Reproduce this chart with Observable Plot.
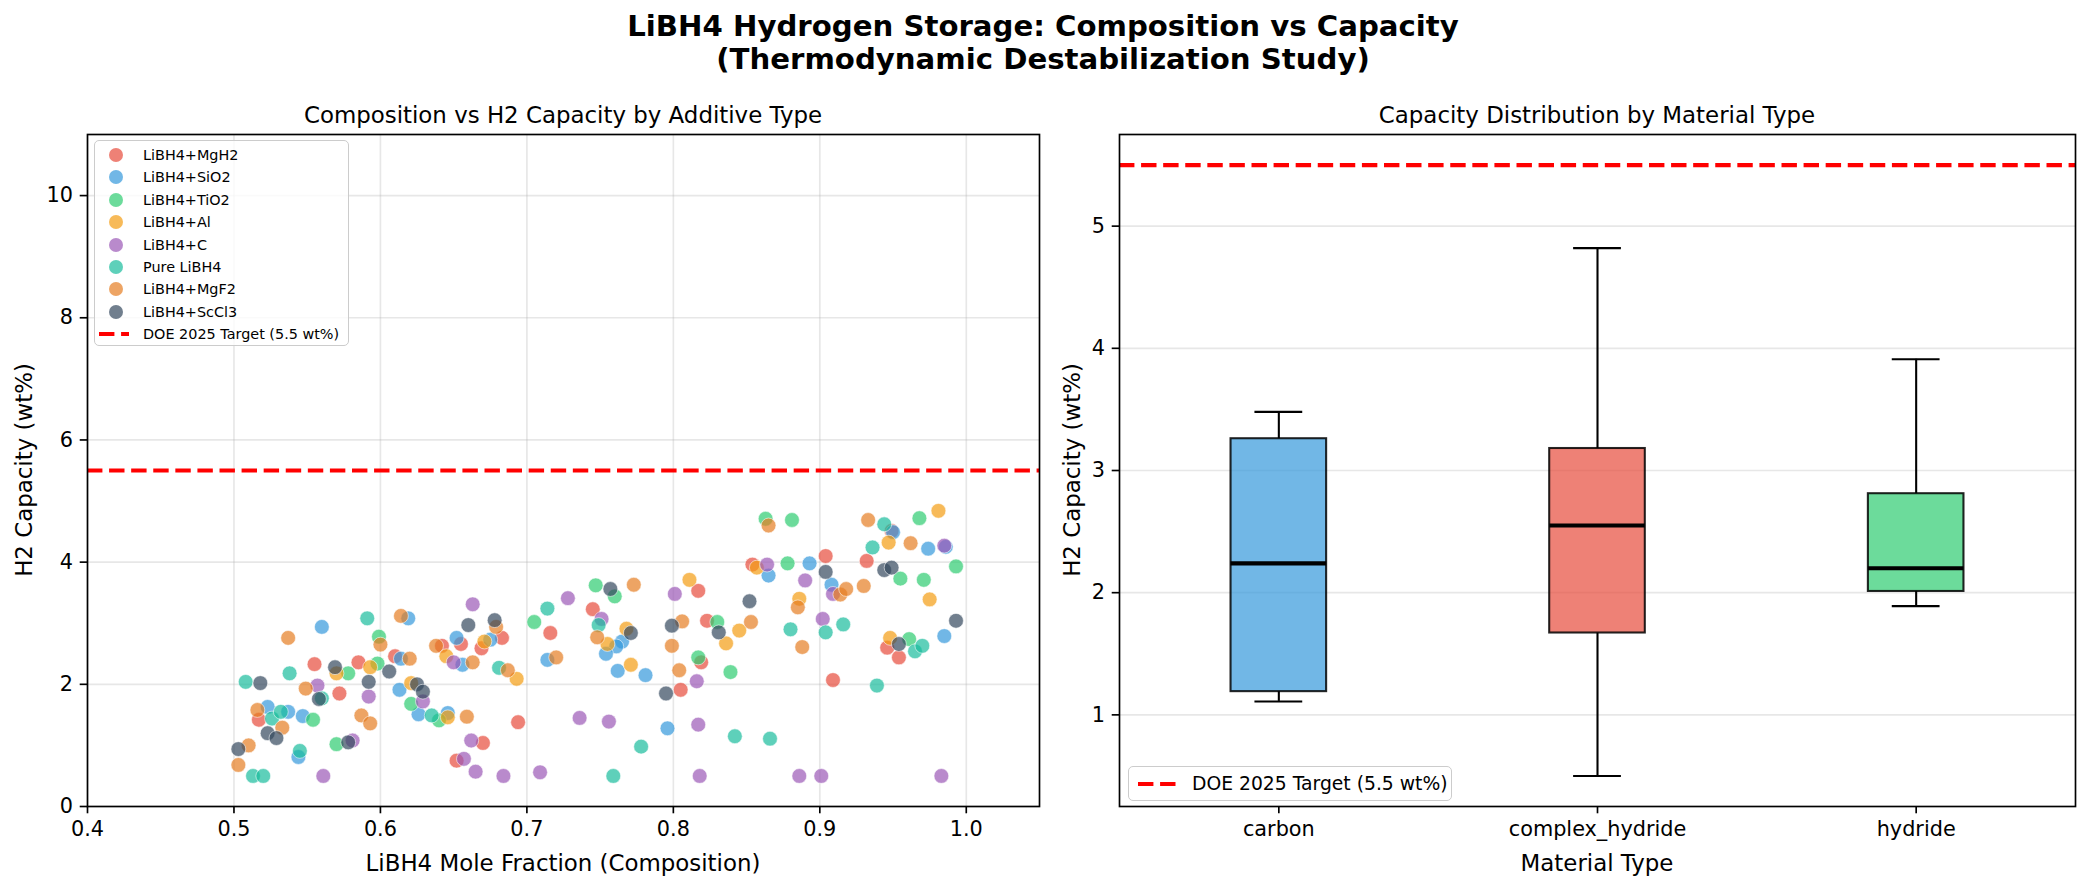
<!DOCTYPE html>
<html><head><meta charset="utf-8">
<script src="https://cdn.jsdelivr.net/npm/d3@7"></script>
<script src="https://cdn.jsdelivr.net/npm/@observablehq/plot@0.6"></script>
<style>
body{margin:0;background:#fff;}
#fig{position:relative;width:2086px;height:890px;font-family:"DejaVu Sans",sans-serif;color:#000;overflow:hidden;background:#fff;}
#fig svg{position:absolute;top:0;}
.t{position:absolute;white-space:nowrap;transform:translate(-50%,-50%);line-height:1;}
.legend{position:absolute;box-sizing:border-box;border:1.5px solid #cccccc;border-radius:5px;background:rgba(255,255,255,0.8);}
</style></head><body><div id="fig"></div>
<script>
// ---------- data ----------
const typeNames = ["LiBH4+MgH2","LiBH4+SiO2","LiBH4+TiO2","LiBH4+Al","LiBH4+C","Pure LiBH4","LiBH4+MgF2","LiBH4+ScCl3"];
const typeColors = ["#e74c3c","#3498db","#2ecc71","#f39c12","#9b59b6","#1abc9c","#e67e22","#34495e"];

const ptsMgH2 = [[0.555,2.33],[0.585,2.36],[0.572,1.85],[0.517,1.42],[0.683,2.76],[0.655,2.66],[0.642,2.63],[0.669,2.59],[0.610,2.46],[0.694,1.38],[0.670,1.04],[0.652,0.75],[0.716,2.84],[0.745,3.23],[0.805,1.91],[0.817,3.53],[0.854,3.96],[0.904,4.10],[0.823,3.04],[0.819,2.36],[0.909,2.07],[0.949,4.51],[0.932,4.02],[0.946,2.60],[0.954,2.44]];
const ptsSiO2 = [[0.560,2.94],[0.523,1.63],[0.537,1.55],[0.547,1.48],[0.544,0.81],[0.619,3.08],[0.652,2.76],[0.656,2.32],[0.675,2.73],[0.614,2.42],[0.613,1.91],[0.626,1.51],[0.646,1.53],[0.714,2.40],[0.765,2.70],[0.761,2.62],[0.754,2.50],[0.762,2.22],[0.781,2.15],[0.796,1.28],[0.865,3.78],[0.893,3.98],[0.908,3.63],[0.950,4.49],[0.974,4.22],[0.986,4.25],[0.985,2.79]];
const ptsTiO2 = [[0.599,2.78],[0.578,2.18],[0.598,2.34],[0.554,1.42],[0.570,1.02],[0.705,3.02],[0.621,1.68],[0.640,1.41],[0.747,3.62],[0.760,3.44],[0.863,4.71],[0.881,4.69],[0.878,3.98],[0.830,3.02],[0.817,2.44],[0.839,2.20],[0.968,4.72],[0.955,3.73],[0.971,3.71],[0.993,3.93],[0.961,2.74]];
const ptsAl = [[0.570,2.18],[0.593,2.28],[0.645,2.46],[0.671,2.70],[0.693,2.09],[0.621,2.02],[0.646,1.46],[0.768,2.91],[0.755,2.66],[0.771,2.32],[0.811,3.71],[0.857,3.91],[0.886,3.40],[0.845,2.88],[0.836,2.67],[0.947,4.32],[0.981,4.84],[0.975,3.39],[0.948,2.76]];
const ptsC = [[0.557,1.98],[0.592,1.80],[0.581,1.08],[0.561,0.50],[0.663,3.31],[0.650,2.36],[0.629,1.72],[0.662,1.08],[0.657,0.78],[0.665,0.57],[0.684,0.50],[0.709,0.56],[0.728,3.41],[0.751,3.07],[0.801,3.48],[0.736,1.45],[0.756,1.39],[0.864,3.96],[0.890,3.70],[0.909,3.48],[0.902,3.07],[0.816,2.05],[0.817,1.34],[0.818,0.50],[0.886,0.50],[0.901,0.50],[0.985,4.27],[0.983,0.50]];
const ptsPure = [[0.591,3.08],[0.538,2.18],[0.508,2.04],[0.560,1.77],[0.526,1.44],[0.532,1.55],[0.545,0.91],[0.513,0.50],[0.520,0.50],[0.681,2.27],[0.635,1.49],[0.714,3.24],[0.749,2.97],[0.778,0.98],[0.759,0.50],[0.880,2.90],[0.904,2.85],[0.916,2.98],[0.842,1.15],[0.866,1.11],[0.944,4.62],[0.936,4.24],[0.965,2.54],[0.970,2.63],[0.939,1.98]];
const ptsMgF2 = [[0.600,2.65],[0.537,2.76],[0.549,1.93],[0.516,1.58],[0.587,1.49],[0.593,1.36],[0.533,1.29],[0.510,1.00],[0.503,0.68],[0.679,2.94],[0.614,3.12],[0.638,2.63],[0.663,2.36],[0.620,2.42],[0.687,2.23],[0.659,1.47],[0.720,2.44],[0.773,3.63],[0.748,2.77],[0.806,3.03],[0.799,2.63],[0.804,2.23],[0.865,4.60],[0.914,3.47],[0.918,3.56],[0.885,3.26],[0.853,3.02],[0.888,2.61],[0.933,4.69],[0.962,4.31],[0.930,3.61]];
const ptsScCl3 = [[0.569,2.28],[0.518,2.02],[0.592,2.04],[0.558,1.76],[0.523,1.20],[0.529,1.12],[0.503,0.94],[0.578,1.05],[0.660,2.97],[0.678,3.05],[0.606,2.21],[0.625,2.00],[0.629,1.88],[0.757,3.56],[0.771,2.84],[0.799,2.96],[0.795,1.85],[0.904,3.84],[0.852,3.36],[0.831,2.85],[0.944,3.87],[0.949,3.91],[0.993,3.04],[0.954,2.66]];
const pointSets = [ptsMgH2, ptsSiO2, ptsTiO2, ptsAl, ptsC, ptsPure, ptsMgF2, ptsScCl3];

const doeTarget = 5.5;
const doeLabel = "DOE 2025 Target (5.5 wt%)";
const xTicks = [0.4,0.5,0.6,0.7,0.8,0.9,1.0];
const yTicksLeft = [0,2,4,6,8,10];

const boxCategories = ["carbon","complex_hydride","hydride"];
const boxColors = ["#3498db","#e74c3c","#2ecc71"];
const boxMin = [1.11, 0.50, 1.89];
const boxQ1 = [1.19, 1.67, 2.01];
const boxMedian = [2.24, 2.55, 2.20];
const boxQ3 = [3.26, 3.18, 2.81];
const boxMax = [3.48, 4.82, 3.91];
const yTicksRight = [1,2,3,4,5];

// ---------- build ----------
const fig = document.getElementById("fig");
const FONT = "DejaVu Sans";
const px = 150/72; // points -> pixels
const axisStyle = {fontFamily: FONT, fontSize: "20.8px", color: "#000", background: "transparent", overflow: "visible"};
const gridOpts = {stroke: "#b0b0b0", strokeOpacity: 0.3, strokeWidth: 0.8*px};
const tickOpts = {tickSize: 3.5*px, tickPadding: 3.5*px, strokeWidth: 0.8*px, label: null, fontSize: "20.8px"};
const doeOpts = {stroke: "#ff0000", strokeWidth: 2*px, strokeDasharray: `${3.7*2*px},${1.6*2*px}`};

const points = [];
pointSets.forEach((set, i) => set.forEach(([x, y]) => points.push({type: typeNames[i], x, y})));

const left = Plot.plot({
  width: 1060, height: 890,
  marginTop: 134, marginBottom: 84, marginLeft: 87, marginRight: 21,
  style: axisStyle,
  x: {domain: [0.4, 1.05], label: null},
  y: {domain: [0, 11], label: null},
  color: {domain: typeNames, range: typeColors},
  marks: [
    Plot.gridX(xTicks, gridOpts),
    Plot.gridY(yTicksLeft, gridOpts),
    Plot.dot(points, {x: "x", y: "y", fill: "type", r: 7.4, fillOpacity: 0.7, stroke: "#ffffff", strokeWidth: 0.8, strokeOpacity: 0.7}),
    Plot.ruleY([doeTarget], doeOpts),
    Plot.axisX(xTicks, {...tickOpts, tickFormat: d3.format(".1f")}),
    Plot.axisY(yTicksLeft, {...tickOpts, tickFormat: d3.format("d")}),
    Plot.frame({stroke: "#000", strokeWidth: 0.8*px})
  ]
});
left.style.left = "0px";
fig.appendChild(left);

const boxRows = boxCategories.map((type, i) => ({type, min: boxMin[i], q1: boxQ1[i], median: boxMedian[i], q3: boxQ3[i], max: boxMax[i]}));
const rW = 1026, rML = 59, rMR = 11;
const bandwidth = 0.3 * (rW - rML - rMR) / 3;
const capInset = bandwidth / 4;
const lineBlack = {stroke: "#000", strokeWidth: 1*px};

const right = Plot.plot({
  width: rW, height: 890,
  marginTop: 134, marginBottom: 84, marginLeft: rML, marginRight: rMR,
  style: axisStyle,
  x: {type: "band", domain: boxCategories, paddingInner: 0.7, paddingOuter: 0.35, round: false, label: null},
  y: {domain: [0.25, 5.75], label: null},
  color: {domain: boxCategories, range: boxColors},
  marks: [
    Plot.gridY(yTicksRight, gridOpts),
    Plot.ruleX(boxRows, {x: "type", y1: "min", y2: "q1", ...lineBlack}),
    Plot.ruleX(boxRows, {x: "type", y1: "q3", y2: "max", ...lineBlack}),
    Plot.barY(boxRows, {x: "type", y1: "q1", y2: "q3", fill: "type", fillOpacity: 0.7, stroke: "#000", strokeOpacity: 0.85, strokeWidth: 1*px}),
    Plot.tickY(boxRows, {x: "type", y: "min", insetLeft: capInset, insetRight: capInset, ...lineBlack}),
    Plot.tickY(boxRows, {x: "type", y: "max", insetLeft: capInset, insetRight: capInset, ...lineBlack}),
    Plot.tickY(boxRows, {x: "type", y: "median", stroke: "#000", strokeWidth: 2*px}),
    Plot.ruleY([doeTarget], doeOpts),
    Plot.axisX({...tickOpts}),
    Plot.axisY(yTicksRight, {...tickOpts, tickFormat: d3.format("d")}),
    Plot.frame({stroke: "#000", strokeWidth: 0.8*px})
  ]
});
right.style.left = "1060px";
fig.appendChild(right);

// ---------- text ----------
function addText(txt, x, y, size, extra = {}) {
  const d = document.createElement("div");
  d.className = "t";
  d.textContent = txt;
  d.style.left = x + "px"; d.style.top = y + "px"; d.style.fontSize = size + "px";
  Object.assign(d.style, extra);
  fig.appendChild(d);
  return d;
}
addText("LiBH4 Hydrogen Storage: Composition vs Capacity", 1043, 27, 29.2, {fontWeight: "bold"});
addText("(Thermodynamic Destabilization Study)", 1043, 60, 29.2, {fontWeight: "bold"});
addText("Composition vs H2 Capacity by Additive Type", 563, 115, 22.9);
addText("Capacity Distribution by Material Type", 1597, 115, 22.9);
addText("LiBH4 Mole Fraction (Composition)", 563, 863, 22.9);
addText("Material Type", 1597, 863, 22.9);
addText("H2 Capacity (wt%)", 24, 470, 22.9, {transform: "translate(-50%,-50%) rotate(-90deg)"});
addText("H2 Capacity (wt%)", 1072, 470, 22.9, {transform: "translate(-50%,-50%) rotate(-90deg)"});

// ---------- legends ----------
function dashSvg(w) {
  return `<svg width="${w}" height="8" style="position:absolute;overflow:visible"><line x1="0" y1="4" x2="${w}" y2="4" stroke="#ff0000" stroke-width="${2*px}" stroke-dasharray="${3.7*2*px},${1.6*2*px}"/></svg>`;
}
const lg = document.createElement("div");
lg.className = "legend";
Object.assign(lg.style, {left: "94px", top: "140px", width: "255px", height: "206px"});
fig.appendChild(lg);
const rowY0 = 14, rowStep = 22.4;
typeNames.forEach((name, i) => {
  const c = document.createElement("div");
  Object.assign(c.style, {position: "absolute", left: (21 - 7) + "px", top: (rowY0 + i*rowStep - 7) + "px", width: "14px", height: "14px", borderRadius: "50%", background: typeColors[i], opacity: 0.7});
  lg.appendChild(c);
  const t = document.createElement("div");
  Object.assign(t.style, {position: "absolute", left: "48px", top: (rowY0 + i*rowStep) + "px", transform: "translateY(-50%)", fontSize: "14.4px", whiteSpace: "nowrap", lineHeight: "1"});
  t.textContent = name;
  lg.appendChild(t);
});
{
  const yy = rowY0 + typeNames.length*rowStep;
  const s = document.createElement("div");
  Object.assign(s.style, {position: "absolute", left: "4px", top: (yy - 4) + "px"});
  s.innerHTML = dashSvg(30);
  lg.appendChild(s);
  const t = document.createElement("div");
  Object.assign(t.style, {position: "absolute", left: "48px", top: yy + "px", transform: "translateY(-50%)", fontSize: "14.4px", whiteSpace: "nowrap", lineHeight: "1"});
  t.textContent = doeLabel;
  lg.appendChild(t);
}
const lg2 = document.createElement("div");
lg2.className = "legend";
Object.assign(lg2.style, {left: "1128px", top: "766px", width: "324px", height: "35px"});
fig.appendChild(lg2);
{
  const s = document.createElement("div");
  Object.assign(s.style, {position: "absolute", left: "9px", top: "13px"});
  s.innerHTML = dashSvg(37.5);
  lg2.appendChild(s);
  const t = document.createElement("div");
  Object.assign(t.style, {position: "absolute", left: "63px", top: "17px", transform: "translateY(-50%)", fontSize: "18.75px", whiteSpace: "nowrap", lineHeight: "1"});
  t.textContent = doeLabel;
  lg2.appendChild(t);
}
</script></body></html>
